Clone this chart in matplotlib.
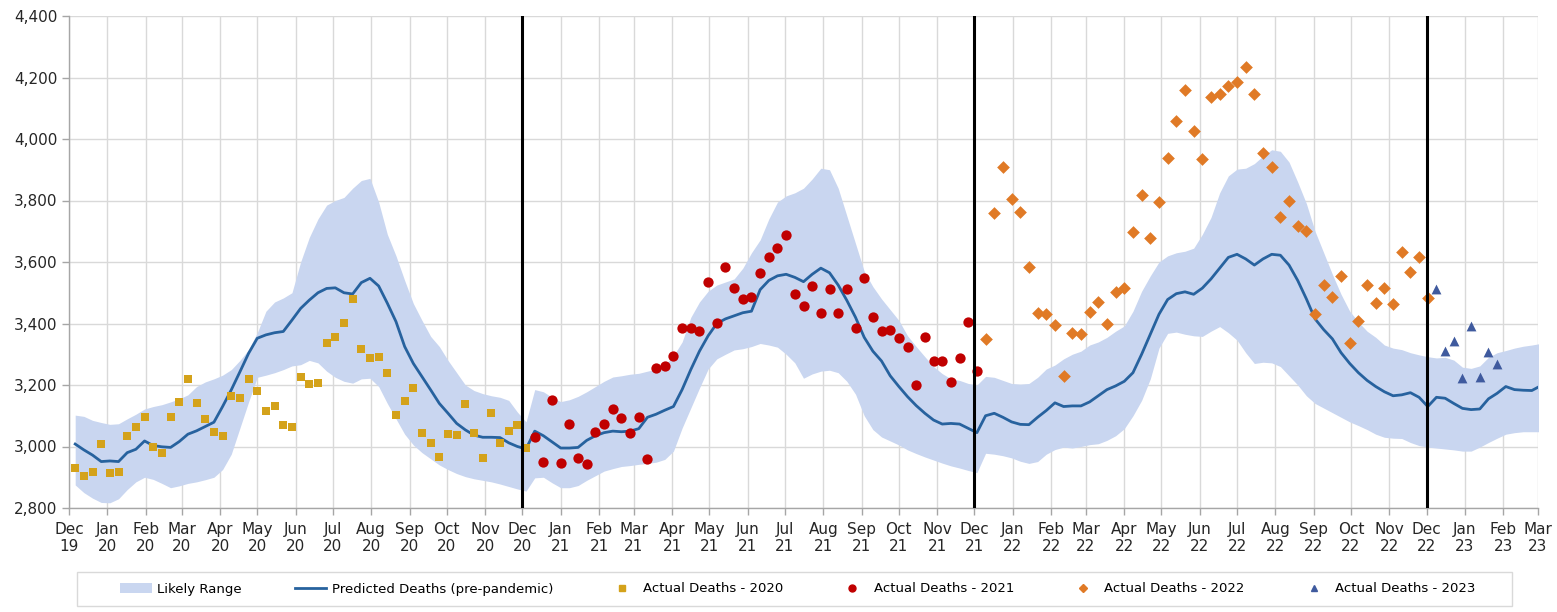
import numpy as np
import matplotlib
matplotlib.use("Agg")
import matplotlib.pyplot as plt
import matplotlib.dates as mdates
import matplotlib.ticker as mticker
from matplotlib.patches import Patch, Rectangle
from matplotlib.lines import Line2D

# === Weekly series (first week ending 6 Dec 2019) ===
start = np.datetime64("2019-12-06")

predicted = [
    3008, 2989, 2972, 2951, 2953, 2951, 2980, 2991, 3018, 3003,
    2999, 2997, 3016, 3040, 3051, 3065, 3079, 3130, 3184, 3243,
    3303, 3352, 3363, 3370, 3374, 3411, 3449, 3476, 3500, 3514,
    3516, 3500, 3496, 3533, 3547, 3522, 3466, 3406, 3325, 3270,
    3227, 3184, 3140, 3108, 3075, 3054, 3037, 3030, 3030, 3029,
    3012, 3000, 2992,
    3050, 3035, 3015, 2995, 2995, 2997, 3020, 3035, 3045, 3050,
    3048, 3050, 3058, 3095, 3105, 3118, 3130, 3185, 3250, 3310,
    3360, 3400, 3415, 3425, 3435, 3440, 3510, 3540, 3555, 3560,
    3550, 3536, 3560, 3580, 3565, 3525, 3475, 3420, 3355, 3310,
    3278, 3230, 3195, 3162, 3133, 3108, 3086, 3073, 3075, 3073,
    3059, 3045,
    3100, 3108, 3095, 3080, 3072, 3071, 3095, 3117, 3142, 3130,
    3132, 3132, 3145, 3165, 3185, 3197, 3212, 3240, 3300, 3365,
    3430, 3478, 3497, 3503, 3495, 3515, 3545, 3580, 3615, 3625,
    3610, 3590, 3610, 3625, 3622, 3590, 3540, 3480, 3415, 3380,
    3350, 3305, 3270, 3240, 3215, 3195, 3178, 3165, 3168, 3175,
    3160, 3130,
    3160, 3157, 3140, 3124, 3120, 3122, 3155, 3173, 3195, 3185,
    3183, 3182, 3197,
]

range_high = [
    3102, 3098, 3085, 3078, 3072, 3074, 3090, 3105, 3122, 3130,
    3136, 3145, 3155, 3168, 3195, 3210, 3220, 3232, 3250, 3280,
    3315, 3370, 3440, 3470, 3483, 3500, 3600, 3680, 3740, 3785,
    3800, 3810, 3840, 3865, 3872, 3795, 3690, 3620, 3540, 3465,
    3410, 3358, 3325, 3280, 3240, 3200, 3182, 3172, 3165, 3160,
    3150, 3112, 3080,
    3185, 3178, 3160, 3146, 3152, 3163, 3178, 3195, 3212, 3226,
    3230, 3235, 3238, 3245, 3252, 3265, 3295, 3340, 3420, 3470,
    3505, 3525, 3535, 3545, 3580, 3630, 3672, 3740, 3795, 3815,
    3825, 3840, 3870, 3905, 3900, 3840, 3750, 3660, 3570, 3520,
    3480, 3445, 3410, 3360, 3325, 3292, 3260, 3237, 3220, 3215,
    3205, 3200,
    3228, 3225, 3215, 3205, 3203, 3205, 3225, 3252, 3265, 3285,
    3300, 3310, 3330, 3340, 3355, 3375, 3392, 3440, 3505, 3555,
    3600, 3620, 3630, 3635, 3645, 3690, 3745, 3825, 3880, 3902,
    3905, 3920, 3945, 3965, 3960, 3925, 3860, 3790, 3700, 3630,
    3560, 3495, 3440, 3405, 3375, 3355, 3330, 3320, 3315, 3305,
    3298, 3292,
    3288, 3290, 3281, 3258, 3254, 3262, 3290, 3305, 3312, 3320,
    3326, 3330, 3335,
]

range_low = [
    2875, 2850, 2832, 2818, 2817, 2830, 2860, 2885, 2900, 2893,
    2880, 2866, 2872, 2880, 2885, 2892, 2900, 2925, 2975, 3060,
    3145, 3225, 3232, 3240, 3250, 3262, 3266, 3280, 3272, 3245,
    3225, 3212, 3206, 3220, 3222, 3195, 3140, 3090, 3040, 3005,
    2980, 2960, 2940, 2925, 2912, 2902, 2895, 2890, 2885, 2878,
    2870, 2862, 2855,
    2898, 2900, 2882, 2866, 2866, 2873, 2890, 2905, 2920, 2928,
    2935, 2938, 2942, 2945, 2949, 2958, 2985, 3060, 3125, 3190,
    3252, 3285, 3300, 3314, 3318, 3325, 3335, 3330, 3323, 3300,
    3272, 3222, 3236, 3245, 3248, 3240, 3212, 3170, 3100, 3055,
    3031, 3018, 3005, 2989, 2977, 2966, 2956, 2946, 2937, 2930,
    2922, 2915,
    2978, 2975, 2970, 2963, 2952, 2945, 2951, 2975, 2990, 2998,
    2995, 3000, 3006, 3009, 3020, 3035, 3058, 3100, 3150, 3220,
    3320, 3368, 3372, 3365, 3360, 3358, 3375, 3390, 3370, 3346,
    3305, 3270, 3274, 3272, 3260, 3230, 3200, 3165, 3140, 3125,
    3110, 3095, 3080, 3068, 3055, 3040, 3030, 3027, 3026, 3013,
    3003, 2998,
    2995, 2992, 2989, 2985, 2985, 2998, 3013, 3027, 3040, 3045,
    3048, 3048, 3048,
]

deaths_2020 = [
    2929, 2904, 2918, 3009, 2913, 2918, 3034, 3065, 3095, 2999,
    2980, 3097, 3144, 3220, 3140, 3088, 3048, 3034, 3164, 3157,
    3219, 3182, 3117, 3132, 3069, 3062, 3225, 3203, 3205, 3338,
    3357, 3401, 3479, 3316, 3287, 3292, 3240, 3102, 3149, 3191,
    3045, 3010, 2967, 3040, 3037, 3137, 3045, 2962, 3110, 3010,
    3051, 3070, 2994,
]

deaths_2021 = [
    3032, 2951, 3151, 2947, 3072, 2962, 2942, 3048, 3073, 3121,
    3092, 3043, 3097, 2958, 3256, 3263, 3294, 3384, 3386, 3377,
    3535, 3401, 3585, 3514, 3480, 3487, 3563, 3617, 3645, 3688,
    3495, 3457, 3522, 3435, 3511, 3435, 3511, 3384, 3548, 3420,
    3377, 3379, 3352, 3325, 3200, 3355, 3278, 3278, 3209, 3289,
    3406, 3247,
]

deaths_2022 = [
    3350, 3758, 3910, 3805, 3764, 3583, 3433, 3431, 3395, 3229,
    3368, 3366, 3438, 3471, 3397, 3501, 3514, 3696, 3818, 3677,
    3794, 3937, 4060, 4159, 4027, 3935, 4136, 4146, 4173, 4186,
    4235, 4146, 3953, 3908, 3747, 3799, 3718, 3702, 3431, 3525,
    3485, 3554, 3335, 3408, 3525, 3466, 3514, 3462, 3634, 3569,
    3615, 3482,
]

deaths_2023 = [3511, 3312, 3344, 3222, 3392, 3225, 3308, 3268]

year_breaks = ["2020-12-01", "2021-12-01", "2022-12-01"]

weeks = start + 7 * np.arange(len(predicted))
n20, n21, n22 = len(deaths_2020), len(deaths_2021), len(deaths_2022)
w20 = weeks[:n20]
w21 = weeks[n20:n20 + n21]
w22 = weeks[n20 + n21:n20 + n21 + n22]
w23 = weeks[n20 + n21 + n22:n20 + n21 + n22 + len(deaths_2023)]

# === Colours ===
c_band = "#c9d6f0"
c_line = "#27629e"
c_2020 = "#d4a21a"
c_2021 = "#c00000"
c_2022 = "#e07a26"
c_2023 = "#3f5a9e"

plt.rcParams["font.family"] = ["DejaVu Sans"]

W, H = 1557, 612
fig = plt.figure(figsize=(W / 100, H / 100), dpi=100)
ax = fig.add_axes([69 / W, 1 - 508 / H, (1538 - 69) / W, (508 - 16) / H])

ax.fill_between(weeks, range_low, range_high, color=c_band, lw=0, zorder=1)
ax.plot(weeks, predicted, color=c_line, lw=2.0, zorder=3)

ax.scatter(w20, deaths_2020, marker="s", s=40, color=c_2020, lw=0, zorder=4)
ax.scatter(w21, deaths_2021, marker="o", s=55, color=c_2021, lw=0, zorder=4)
ax.scatter(w22, deaths_2022, marker="D", s=42, color=c_2022, lw=0, zorder=4)
ax.scatter(w23, deaths_2023, marker="^", s=50, color=c_2023, lw=0, zorder=4)

for d in year_breaks:
    ax.axvline(np.datetime64(d), color="black", lw=2.2, zorder=5)

# axes
ax.set_xlim(np.datetime64("2019-12-01"), np.datetime64("2023-03-01"))
ax.set_ylim(2800, 4400)
ax.yaxis.set_major_locator(mticker.MultipleLocator(200))
ax.yaxis.set_major_formatter(mticker.StrMethodFormatter("{x:,.0f}"))
ax.xaxis.set_major_locator(mdates.MonthLocator())
ax.xaxis.set_major_formatter(mdates.DateFormatter("%b\n%y"))

ax.grid(True, color="#d9d9d9", lw=1.0, zorder=0)
ax.set_axisbelow(True)
for side in ("top", "right"):
    ax.spines[side].set_visible(False)
for side in ("left", "bottom"):
    ax.spines[side].set_color("#a6a6a6")
    ax.spines[side].set_linewidth(1.0)
ax.tick_params(axis="both", colors="#a6a6a6", length=5, width=1.0,
               labelcolor="#262626", labelsize=11)
ax.tick_params(axis="x", pad=5)

# legend: frame drawn separately, entries spread across it
fig.patches.append(Rectangle((77 / W, 1 - 606 / H), (1512 - 77) / W, 34 / H,
                             transform=fig.transFigure, facecolor="white",
                             edgecolor="#d9d9d9", lw=1.0))
handles = [
    Patch(facecolor=c_band, edgecolor="none"),
    Line2D([], [], color=c_line, lw=2.0),
    Line2D([], [], marker="s", ls="none", color=c_2020, markersize=5),
    Line2D([], [], marker="o", ls="none", color=c_2021, markersize=5),
    Line2D([], [], marker="D", ls="none", color=c_2022, markersize=4),
    Line2D([], [], marker="^", ls="none", color=c_2023, markersize=5),
]
labels = [
    "Likely Range",
    "Predicted Deaths (pre-pandemic)",
    "Actual Deaths - 2020",
    "Actual Deaths - 2021",
    "Actual Deaths - 2022",
    "Actual Deaths - 2023",
]
leg = fig.legend(handles, labels, ncol=6, loc="center",
                 bbox_to_anchor=(120 / W, 1 - 606 / H, (1475 - 120) / W, 34 / H),
                 mode="expand", frameon=False,
                 prop={"size": 9.5}, handlelength=2.4, handletextpad=0.4,
                 borderaxespad=0, borderpad=0)

fig.savefig("out.png", dpi=100)
